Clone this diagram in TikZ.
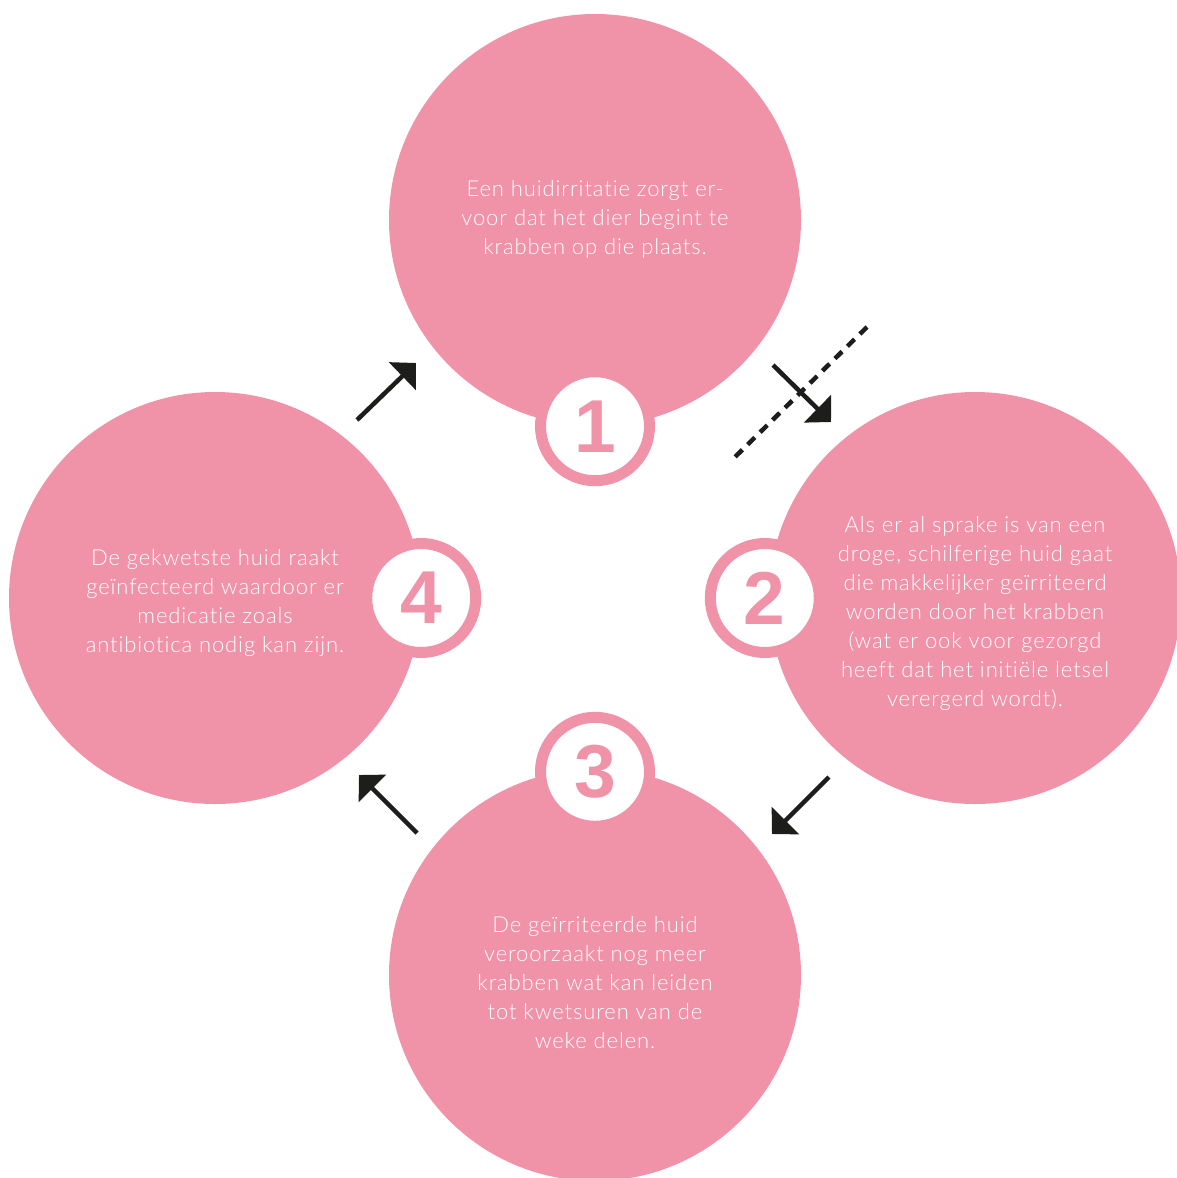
\documentclass[tikz,border=0pt]{standalone}
\usepackage{fontspec}
\setmainfont{Lato}[UprightFont=* Light,LetterSpace=4,Ligatures=NoCommon]
\newfontfamily\numfont{Liberation Sans}
\usetikzlibrary{arrows.meta,positioning}
\definecolor{blush}{HTML}{F093A9}
\definecolor{ink}{HTML}{1D1D1B}

\begin{document}
\begin{tikzpicture}[x=1pt,y=-1pt,
  stage/.style={circle,fill=blush,minimum size=412pt,inner sep=0pt},
  stagetext/.style={text=white,align=center,font=\fontsize{22}{29}\selectfont},
  badge/.style={circle,draw=blush,line width=11pt,fill=white,minimum size=109pt,inner sep=0pt,
    text=blush,font=\numfont\bfseries\fontsize{75}{75}\selectfont},
  flow/.style={ink,line width=4.5pt,-{Triangle[length=19pt,width=38pt]}}]
  \useasboundingbox (0,0) rectangle (1177,1178);

  % Stages
  \node[stage] (c1) at (595,220) {};
  \node[stage] (c2) at (975,598) {};
  \node[stage] (c3) at (595,975) {};
  \node[stage] (c4) at (215,598) {};

  \node[stagetext] (t1) at (595,219) {Een huidirritatie zorgt er-\\voor dat het dier begint te\\krabben op die plaats.};
  \node[stagetext] (t2) at (975,614) {Als er al sprake is van een\\droge, schilferige huid gaat\\die makkelijker geïrriteerd\\worden door het krabben\\(wat er ook voor gezorgd\\heeft dat het initiële letsel\\verergerd wordt).};
  \node[stagetext] (t3) at (595,983) {De geïrriteerde huid\\veroorzaakt nog meer\\krabben wat kan leiden\\tot kwetsuren van de\\weke delen.};
  \node[stagetext] (t4) at (215,603) {De gekwetste huid raakt\\geïnfecteerd waardoor er\\medicatie zoals\\antibiotica nodig kan zijn.};

  % Numbers
  \node[badge] (b1) at (c1.south) {1};
  \node[badge] (b2) at ([xshift=-4pt]c2.west) {2};
  \node[badge] (b3) at ([yshift=-3pt]c3.north) {3};
  \node[badge] (b4) at (c4.east) {4};

  % Cycle arrows
  \coordinate (d1) at (867,327);
  \coordinate (d2) at (735,457);
  \draw[ink,line width=4.5pt,dash pattern=on 10pt off 7.5pt] (d1) -- (d2);

  \coordinate (a12s) at (773,365); \coordinate (a12e) at (831,422);
  \coordinate (a23s) at (829,777); \coordinate (a23e) at (772,834);
  \coordinate (a34s) at (417,833); \coordinate (a34e) at (359,775);
  \coordinate (a41s) at (357,420); \coordinate (a41e) at (416,363);
  \draw[flow] (a12s) -- (a12e);
  \draw[flow] (a23s) -- (a23e);
  \draw[flow] (a34s) -- (a34e);
  \draw[flow] (a41s) -- (a41e);
\end{tikzpicture}
\end{document}
